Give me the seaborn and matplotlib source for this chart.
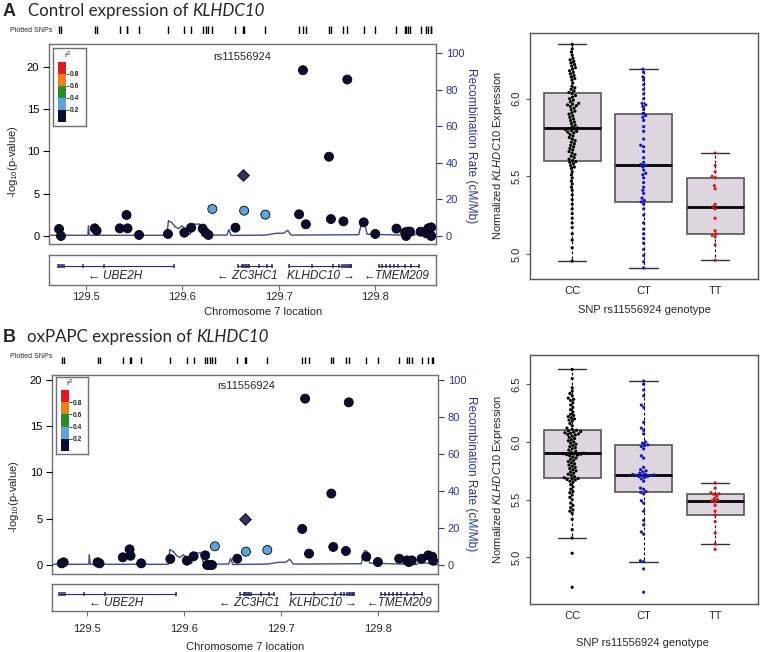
import numpy as np
import pandas as pd
import matplotlib
matplotlib.use("Agg")
import matplotlib.pyplot as plt
import seaborn as sns

# ---------------- data ----------------
genotypes = ["CC", "CT", "TT"]

snp_pos_A = [129.472, 129.474, 129.509, 129.511, 129.535, 129.542, 129.543, 129.555,
             129.585, 129.602, 129.609, 129.621, 129.624, 129.627, 129.631, 129.655,
             129.663, 129.664, 129.686, 129.721, 129.725, 129.728, 129.752, 129.754,
             129.767, 129.771, 129.788, 129.800, 129.822, 129.831, 129.832, 129.834,
             129.836, 129.847, 129.853, 129.855, 129.858, 129.858]
snp_logp_A = [0.83, 0.0, 0.90, 0.63, 0.90, 2.48, 0.90, 0.12,
              0.24, 0.39, 0.98, 0.87, 0.39, 0.12, 3.19, 0.98,
              7.20, 2.99, 2.52, 2.56, 19.6, 1.38, 9.37, 2.00,
              1.73, 18.5, 1.61, 0.24, 0.87, 0.43, 0.0, 0.51,
              0.51, 0.51, 0.31, 0.90, 1.02, 0.0]
snp_ld_A = ["lo", "lo", "lo", "lo", "lo", "lo", "lo", "lo",
            "lo", "lo", "lo", "lo", "lo", "lo", "lb", "lo",
            "lead", "lb", "lb", "lo", "lo", "lo", "lo", "lo",
            "lo", "lo", "lo", "lo", "lo", "lo", "lo", "lo",
            "lo", "lo", "lo", "lo", "lo", "lo"]

snp_pos_B = [129.474, 129.476, 129.511, 129.513, 129.537, 129.544, 129.545, 129.556,
             129.586, 129.603, 129.610, 129.622, 129.624, 129.627, 129.629, 129.632,
             129.655, 129.663, 129.664, 129.686, 129.722, 129.725, 129.729, 129.752,
             129.754, 129.767, 129.770, 129.788, 129.800, 129.822, 129.830, 129.832,
             129.835, 129.845, 129.852, 129.856, 129.857]
snp_logp_B = [0.18, 0.29, 0.29, 0.18, 0.83, 1.69, 1.00, 0.18,
              0.65, 0.47, 0.94, 1.04, 0.0, 0.0, 0.0, 2.02,
              0.68, 4.97, 1.44, 1.62, 3.89, 17.95, 1.23, 7.71,
              1.95, 1.51, 17.55, 0.90, 0.32, 0.68, 0.50, 0.32,
              0.50, 0.68, 1.04, 0.90, 0.47]
snp_ld_B = ["lo", "lo", "lo", "lo", "lo", "lo", "lo", "lo",
            "lo", "lo", "lo", "lo", "lo", "lo", "lo", "lb",
            "lo", "lead", "lb", "lb", "lo", "lo", "lo", "lo",
            "lo", "lo", "lo", "lo", "lo", "lo", "lo", "lo",
            "lo", "lo", "lo", "lo", "lo"]

rec_pos = [129.4626, 129.5020, 129.5024, 129.5035, 129.5048, 129.5838, 129.5855, 129.5890,
           129.5924, 129.5959, 129.5993, 129.6028, 129.6052, 129.6080, 129.6108, 129.6150,
           129.6177, 129.6198, 129.6225, 129.6461, 129.6482, 129.6503, 129.6859, 129.6980,
           129.7049, 129.7091, 129.7126, 129.7828, 129.7863, 129.7887, 129.7915, 129.8399,
           129.8417, 129.8504, 129.8572, 129.8624]
rec_rate = [0.4, 0.4, 5.6, 0.5, 0.4, 0.4, 8.4, 7.3,
            5.1, 4.0, 5.5, 4.2, 1.5, 0.9, 6.4, 6.5,
            6.5, 1.5, 0.5, 0.5, 3.6, 0.3, 0.5, 1.5,
            1.5, 3.1, 0.5, 0.7, 7.8, 7.5, 1.0, 0.3,
            1.1, 1.1, 0.2, 0.2]

gene_labels = ["\u2190 UBE2H", "\u2190 ZC3HC1", "KLHDC10 \u2192", "\u2190TMEM209"]
gene_start = [129.4712, 129.6575, 129.7101, 129.8035]
gene_end = [129.5917, 129.6928, 129.7752, 129.8451]
gene_label_x = [129.530, 129.6677, 129.7435, 129.8221]
gene_exons = [
    [129.4712, 129.4735, 129.4755, 129.4774, 129.4972, 129.5190, 129.5917],
    [129.6575, 129.6617, 129.6630, 129.6645, 129.6660, 129.6675, 129.6693, 129.6797, 129.6880, 129.6928],
    [129.7101, 129.7343, 129.7557, 129.7620, 129.7650, 129.7680, 129.7700, 129.7715, 129.7730, 129.7745, 129.7752],
    [129.8035, 129.8075, 129.8115, 129.8155, 129.8195, 129.8235, 129.8305, 129.8375, 129.8451],
]
chrom_ticks = [129.5, 129.6, 129.7, 129.8]
chrom_tick_labels = ["129.5", "129.6", "129.7", "129.8"]
r2_breaks = [0.0, 0.2, 0.4, 0.6, 0.8]
r2_tick_labels = ["0.2", "0.4", "0.6", "0.8"]

expr_A_CC = [4.955, 5.04, 5.09, 5.13, 5.17, 5.20, 5.23, 5.26, 5.29, 5.32, 5.35, 5.38, 5.41,
             5.43, 5.45, 5.47, 5.49, 5.51, 5.53, 5.55, 5.56, 5.57, 5.58, 5.59, 5.595,
             5.602, 5.61, 5.62, 5.63, 5.64, 5.65, 5.66, 5.67, 5.68, 5.69, 5.70, 5.71, 5.72,
             5.73, 5.74, 5.75, 5.76, 5.77, 5.78, 5.785, 5.79, 5.795, 5.80, 5.805, 5.808,
             5.812, 5.82, 5.83, 5.84, 5.85, 5.86, 5.87, 5.88, 5.89, 5.90, 5.91, 5.92, 5.93,
             5.94, 5.95, 5.955, 5.96, 5.965, 5.97, 5.98, 5.99, 6.00, 6.01, 6.02, 6.033,
             6.04, 6.05, 6.06, 6.07, 6.08, 6.10, 6.12, 6.13, 6.14, 6.15, 6.16, 6.17, 6.18,
             6.19, 6.20, 6.21, 6.22, 6.23, 6.24, 6.25, 6.26, 6.28, 6.30, 6.32, 6.35]
expr_A_CT = [4.91, 4.95, 4.99, 5.03, 5.07, 5.10, 5.13, 5.16, 5.20, 5.25, 5.29, 5.32, 5.335,
             5.345, 5.36, 5.39, 5.41, 5.43, 5.46, 5.49, 5.51, 5.52, 5.54, 5.56, 5.57,
             5.576, 5.59, 5.62, 5.66, 5.69, 5.70, 5.74, 5.79, 5.82, 5.86, 5.88, 5.892,
             5.905, 5.93, 5.95, 5.96, 5.97, 6.00, 6.03, 6.06, 6.09, 6.12, 6.14, 6.17, 6.19]
expr_A_TT = [4.96, 5.06, 5.11, 5.12, 5.13, 5.15, 5.23, 5.29, 5.305, 5.32, 5.42, 5.44,
             5.49, 5.50, 5.53, 5.57, 5.65]

expr_B_CC = [4.74, 5.035, 5.167, 5.24, 5.33, 5.38, 5.40, 5.41, 5.43, 5.45, 5.47, 5.50, 5.52,
             5.54, 5.56, 5.57, 5.59, 5.61, 5.63, 5.65, 5.66, 5.67, 5.675, 5.68, 5.683,
             5.69, 5.70, 5.71, 5.72, 5.73, 5.74, 5.75, 5.76, 5.77, 5.78, 5.79, 5.80, 5.81,
             5.82, 5.83, 5.84, 5.85, 5.86, 5.87, 5.88, 5.885, 5.89, 5.893, 5.896, 5.899,
             5.903, 5.91, 5.92, 5.93, 5.94, 5.95, 5.96, 5.97, 5.98, 5.99, 6.00, 6.01, 6.02,
             6.03, 6.04, 6.05, 6.06, 6.065, 6.07, 6.075, 6.08, 6.085, 6.09, 6.095, 6.101,
             6.11, 6.12, 6.14, 6.16, 6.18, 6.19, 6.20, 6.21, 6.22, 6.23, 6.24, 6.26, 6.28,
             6.30, 6.32, 6.34, 6.36, 6.37, 6.38, 6.40, 6.42, 6.44, 6.47, 6.55, 6.629]
expr_B_CT = [4.697, 4.899, 4.962, 4.97, 5.20, 5.22, 5.28, 5.32, 5.40, 5.47, 5.49, 5.55, 5.563,
             5.57, 5.59, 5.60, 5.66, 5.68, 5.69, 5.70, 5.70, 5.71, 5.71, 5.712, 5.714,
             5.718, 5.72, 5.73, 5.74, 5.75, 5.76, 5.78, 5.86, 5.88, 5.94, 5.96, 5.968,
             5.975, 5.99, 6.00, 6.07, 6.10, 6.12, 6.17, 6.30, 6.32, 6.40, 6.45, 6.50, 6.528]
expr_B_TT = [5.069, 5.115, 5.21, 5.31, 5.367, 5.40, 5.45, 5.48, 5.49, 5.50, 5.51, 5.53,
             5.546, 5.55, 5.56, 5.60, 5.646]

# ---------------- style ----------------
sns.set_theme(style="white")
plt.rcParams['font.family'] = ['Liberation Sans', 'DejaVu Sans']
plt.rcParams['mathtext.fontset'] = 'custom'
plt.rcParams['mathtext.rm'] = 'Liberation Sans'
plt.rcParams['mathtext.it'] = 'Liberation Sans:italic'
plt.rcParams['axes.unicode_minus'] = False

LD_COLORS = {"lo": "#0C0C33", "lb": "#5AA6DC"}
LEAD_COLOR = "#3E2D60"
BIN_COLORS = ["#0C0C33", "#5AA6DC", "#2B8A2B", "#F07F1A", "#D81E1E"]
BLUE = "#27379A"
LINE_C = "#3A4A9A"
GENE_C = "#2A2A6A"
FRAME = "#707070"
GENO_COLORS = {"CC": "#000000", "CT": "#1616B4", "TT": "#D01818"}

W, H = 760, 652
fig = plt.figure(figsize=(W / 100, H / 100), dpi=100)


def rect(l, t, r, b):
    return [l / W, 1 - b / H, (r - l) / W, (b - t) / H]


def ftext(x, y, s, **kw):
    return fig.text(x / W, 1 - y / H, s, **kw)


def title(y, letter, main, ital, x0):
    ftext(3, y, letter, fontsize=13, fontweight='bold', va='center', family=['Liberation Sans'])
    t = ftext(x0, y, main, fontsize=12.2, va='center', family=['Lato', 'DejaVu Sans'])
    fig.canvas.draw()
    bb = t.get_window_extent()
    ftext(bb.x1 + 4, y, ital, fontsize=12.2, va='center', style='italic', family=['Lato', 'DejaVu Sans'])


def draw_locus(main, gene, snprow, xlim, ylim_p, ylim_r, pos, logp, ld,
               legend_box, cbar_box, r2_xy, lead_xy, ylab_xy, rlab_xy, xlab_xy,
               xtick_pad, plotted_y):
    ax_r = fig.add_axes(rect(*main))
    ax_p = ax_r.twinx()
    sns.lineplot(x=rec_pos, y=rec_rate, ax=ax_r, color=LINE_C, linewidth=1.0,
                 sort=False, estimator=None)
    ax_r.set_xlim(xlim)
    ax_r.set_ylim(ylim_r)
    ax_r.yaxis.tick_right()
    ax_r.set_yticks([0, 20, 40, 60, 80, 100])
    ax_r.tick_params(axis='y', right=True, left=False, labelright=True, labelleft=False,
                     colors=BLUE, labelsize=8, length=4, width=0.8, direction='out', pad=3)
    ax_r.set_xticks([])
    ax_r.set_xlabel('')
    ax_r.set_ylabel('')
    for s in ax_r.spines.values():
        s.set_color(FRAME)
        s.set_linewidth(1.0)

    df = pd.DataFrame({"pos": pos, "logp": logp, "ld": ld})
    sns.scatterplot(data=df[df.ld != "lead"], x="pos", y="logp", hue="ld", palette=LD_COLORS,
                    s=42, edgecolor="black", linewidth=0.6, ax=ax_p, legend=False, zorder=3)
    sns.scatterplot(data=df[df.ld == "lead"], x="pos", y="logp", color=LEAD_COLOR, marker="D",
                    s=36, edgecolor="black", linewidth=0.6, ax=ax_p, legend=False, zorder=3)
    ax_p.set_xlim(xlim)
    ax_p.set_ylim(ylim_p)
    ax_p.yaxis.tick_left()
    ax_p.set_yticks([0, 5, 10, 15, 20])
    ax_p.tick_params(axis='y', left=True, right=False, labelleft=True, labelright=False,
                     colors='black', labelsize=8, length=4, width=0.8, direction='out', pad=3)
    ax_p.set_xticks([])
    ax_p.set_xlabel('')
    ax_p.set_ylabel('')
    for s in ax_p.spines.values():
        s.set_visible(False)

    # gene track
    ax_g = fig.add_axes(rect(*gene))
    for lab, s0, e0, ex, lx in zip(gene_labels, gene_start, gene_end, gene_exons, gene_label_x):
        ax_g.plot([s0, e0], [0.64, 0.64], color=GENE_C, lw=0.8)
        ax_g.plot(ex, [0.64] * len(ex), linestyle='none', marker='|', ms=3.5, mew=1.1, color=GENE_C)
        ax_g.text(lx, 0.30, lab, ha='center', va='center', style='italic', fontsize=8.5,
                  family=['Liberation Sans', 'DejaVu Sans'])
    ax_g.set_xlim(xlim)
    ax_g.set_ylim(0, 1)
    ax_g.set_yticks([])
    ax_g.set_xticks(chrom_ticks)
    ax_g.set_xticklabels(chrom_tick_labels)
    ax_g.tick_params(axis='x', bottom=True, length=3.5, width=0.8, direction='out', labelsize=8,
                     pad=xtick_pad, color=FRAME)
    for s in ax_g.spines.values():
        s.set_color(FRAME)
        s.set_linewidth(1.0)

    # plotted SNP rug
    ax_s = fig.add_axes(rect(*snprow))
    sns.rugplot(x=pos, height=1.0, ax=ax_s, color='black', linewidth=1.0, expand_margins=False)
    ax_s.set_xlim(xlim)
    ax_s.set_ylim(0, 1)
    ax_s.axis('off')
    ftext(10, plotted_y, "Plotted SNPs", fontsize=5, va='center')

    # r2 legend
    ax_l = fig.add_axes(rect(*legend_box))
    ax_l.set_xticks([])
    ax_l.set_yticks([])
    ax_l.set_facecolor('white')
    for s in ax_l.spines.values():
        s.set_color(FRAME)
        s.set_linewidth(1.0)
    ax_c = fig.add_axes(rect(*cbar_box))
    ax_c.bar(x=[0.5] * len(r2_breaks), height=[0.2] * len(r2_breaks), bottom=r2_breaks,
             width=1.0, color=BIN_COLORS, edgecolor='none')
    ax_c.set_xlim(0, 1)
    ax_c.set_ylim(0, 1)
    ax_c.set_xticks([])
    ax_c.yaxis.tick_right()
    ax_c.set_yticks(r2_breaks[1:])
    ax_c.set_yticklabels(r2_tick_labels)
    ax_c.tick_params(axis='y', right=True, length=2, width=0.6, pad=1, labelsize=4.8)
    for t in ax_c.get_yticklabels():
        t.set_fontweight('bold')
    for s in ax_c.spines.values():
        s.set_visible(False)
    ftext(r2_xy[0], r2_xy[1], "r$^2$", fontsize=6, ha='center', va='center')

    ftext(lead_xy[0], lead_xy[1], "rs11556924", fontsize=8, ha='center', va='center')
    ftext(ylab_xy[0], ylab_xy[1], "-log$_{10}$(p-value)", fontsize=8, rotation=90,
          ha='center', va='center')
    ftext(rlab_xy[0], rlab_xy[1], "Recombination Rate (cM/Mb)", fontsize=8.6, rotation=270,
          ha='center', va='center', color=BLUE)
    ftext(xlab_xy[0], xlab_xy[1], "Chromosome 7 location", fontsize=8, ha='center', va='center')


def draw_box(box, cc, ct, tt, ylim, yticks, ylab_xy, xlab_xy):
    ax = fig.add_axes(rect(*box))
    df = pd.DataFrame({
        "g": ["CC"] * len(cc) + ["CT"] * len(ct) + ["TT"] * len(tt),
        "v": list(cc) + list(ct) + list(tt),
    })
    sns.boxplot(data=df, x="g", y="v", order=genotypes, width=0.8, showfliers=False,
                color="#DDD6DF", linecolor="#555555", linewidth=1.2, ax=ax,
                boxprops=dict(facecolor="#DDD6DF", edgecolor="#555555", linewidth=1.2),
                whiskerprops=dict(color="black", linestyle=(0, (2.5, 2)), linewidth=0.8),
                capprops=dict(color="#333333", linewidth=1.0),
                medianprops=dict(color="black", linewidth=2.0))
    sns.swarmplot(data=df, x="g", y="v", order=genotypes, hue="g", palette=GENO_COLORS,
                  size=2.3, ax=ax, legend=False, zorder=4)
    ax.set_xlim(-0.59, 2.6)
    ax.set_ylim(ylim)
    ax.set_yticks(yticks)
    ax.set_yticklabels([f"{v:.1f}" for v in yticks], rotation=90, va='center')
    ax.tick_params(axis='y', left=True, length=3, width=0.8, labelsize=8, pad=3, color="#555555")
    ax.tick_params(axis='x', length=0, labelsize=8, pad=5)
    ax.set_xlabel('')
    ax.set_ylabel('')
    for s in ax.spines.values():
        s.set_color("#555555")
        s.set_linewidth(1.0)
    ftext(ylab_xy[0], ylab_xy[1], r"Normalized $\mathit{KLHDC10}$ Expression", fontsize=8,
          rotation=90, ha='center', va='center')
    ftext(xlab_xy[0], xlab_xy[1], "SNP rs11556924 genotype", fontsize=8, ha='center', va='center')


# ---------------- panel A ----------------
draw_locus(main=(49, 44, 436, 244), gene=(49, 255, 436, 285), snprow=(49, 26, 436, 34),
           xlim=(129.4616, 129.863), ylim_p=(-0.95, 22.7), ylim_r=(-4.37, 104.9),
           pos=snp_pos_A, logp=snp_logp_A, ld=snp_ld_A,
           legend_box=(53, 48, 86, 126), cbar_box=(58, 62, 66, 122), r2_xy=(68, 55),
           lead_xy=(242, 57), ylab_xy=(13, 162), rlab_xy=(471, 146), xlab_xy=(263, 312),
           xtick_pad=1.5, plotted_y=30)
draw_box((530, 33, 758, 279), expr_A_CC, expr_A_CT, expr_A_TT, (4.839, 6.423),
         [5.0, 5.5, 6.0], (498, 156), (644, 310))

# ---------------- panel B ----------------
draw_locus(main=(52, 375, 438, 574), gene=(52, 584, 438, 611), snprow=(52, 357, 438, 364),
           xlim=(129.464, 129.862), ylim_p=(-0.97, 20.5), ylim_r=(-4.86, 102.7),
           pos=snp_pos_B, logp=snp_logp_B, ld=snp_ld_B,
           legend_box=(56, 377, 88, 454), cbar_box=(61, 390, 69, 451), r2_xy=(70, 383),
           lead_xy=(246, 386), ylab_xy=(14, 497), rlab_xy=(471, 474), xlab_xy=(245, 647),
           xtick_pad=6, plotted_y=357)
draw_box((530, 355, 758, 604), expr_B_CC, expr_B_CT, expr_B_TT, (4.595, 6.754),
         [5.0, 5.5, 6.0, 6.5], (498, 480), (642, 643))

title(11, "A", "Control expression of", "KLHDC10", 28)
title(337, "B", "oxPAPC expression of", "KLHDC10", 27)

fig.savefig("out.png", dpi=100)
